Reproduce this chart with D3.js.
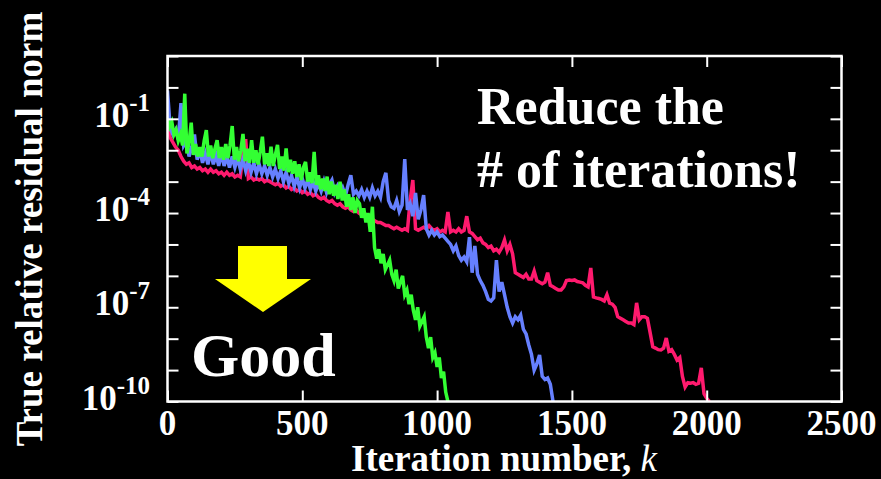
<!DOCTYPE html>
<html>
<head>
<meta charset="utf-8">
<script src="https://cdn.jsdelivr.net/npm/d3@7"></script>
<style>
  html, body { margin: 0; padding: 0; background: #000; }
  svg { display: block; }
  text { font-family: "Liberation Serif", "Times New Roman", serif; font-weight: bold; fill: #fff; }
</style>
</head>
<body>
<svg id="chart" width="881" height="479"></svg>
<script>
// Convergence histories: log10 of the true relative residual norm,
// sampled every `step` iterations.
const redStep = 10;
const redExp = [
  -1.2,-1.6,-1.75,-1.9,-2.0,-2.2,-2.35,-2.45,-2.4,-2.55,
  -2.5,-2.6,-2.55,-2.65,-2.6,-2.7,-2.6,-2.7,-2.65,-2.75,
  -2.7,-2.8,-2.7,-2.8,-2.75,-2.85,-2.8,-2.85,-2.1,-1.65,
  -2.9,-2.85,-2.95,-2.9,-2.95,-2.9,-3.0,-2.95,-3.0,-3.05,
  -3.1,-3.05,-3.15,-3.1,-3.2,-3.15,-3.25,-3.2,-3.3,-3.25,
  -3.35,-3.3,-3.4,-3.35,-3.45,-3.4,-3.5,-3.55,-3.5,-3.6,
  -3.65,-3.6,-3.7,-3.75,-3.7,-3.8,-3.85,-3.8,-3.9,-3.95,
  -3.9,-4.0,-4.05,-4.0,-4.1,-4.15,-4.2,-4.25,-4.3,-4.3,
  -4.35,-4.4,-4.4,-4.45,-4.5,-4.45,-4.5,-4.55,-4.5,-4.55,
  -3.6,-2.95,-4.5,-4.55,-4.5,-4.45,-4.5,-4.4,-4.5,-4.55,
  -4.5,-4.6,-4.55,-4.6,-3.97,-4.6,-4.55,-4.6,-4.5,-4.6,
  -4.55,-4.1,-4.6,-4.65,-4.75,-4.85,-4.8,-4.95,-5.0,-5.1,
  -5.05,-5.2,-5.15,-5.25,-5.1,-4.86,-5.2,-5.0,-5.3,-5.9,
  -5.95,-6.0,-6.05,-5.95,-6.1,-6.1,-5.85,-6.15,-6.2,-6.25,
  -6.2,-5.9,-6.3,-6.35,-6.4,-6.45,-6.45,-6.35,-6.15,-6.13,
  -6.15,-6.13,-6.18,-6.2,-6.22,-6.3,-6.35,-5.75,-6.67,-6.7,
  -6.72,-6.75,-6.8,-6.6,-6.87,-6.9,-7.0,-7.3,-7.35,-7.4,
  -7.45,-7.5,-7.5,-7.55,-6.86,-7.4,-7.3,-7.3,-7.35,-7.8,
  -8.26,-8.3,-8.35,-8.36,-8.3,-7.98,-8.4,-8.35,-8.5,-8.68,
  -8.6,-9.2,-9.54,-9.4,-9.42,-9.4,-9.45,-9.42,-8.93,-9.75,
  -9.9,-10.0
];

const blueStep = 10;
const blueExp = [
  -0.1,-1.3,-1.5,-1.35,-1.65,-0.5,-1.85,-1.7,-2.2,-1.9,
  -1.5,-2.3,-2.0,-2.4,-2.1,-2.45,-2.05,-2.45,-2.15,-2.5,
  -2.1,-2.5,-2.2,-2.55,-2.2,-2.55,-2.25,-2.6,-2.3,-2.65,
  -2.35,-2.7,-2.4,-2.75,-2.45,-2.75,-2.5,-2.8,-2.55,-2.85,
  -2.6,-2.9,-2.65,-3.0,-2.7,-3.05,-2.8,-3.15,-2.85,-3.2,
  -2.9,-3.2,-2.95,-3.25,-3.0,-3.3,-3.05,-3.3,-3.0,-3.35,
  -3.1,-2.95,-3.35,-3.15,-3.4,-3.2,-3.45,-3.1,-2.8,-3.4,
  -3.3,-3.45,-3.25,-3.5,-3.3,-3.5,-3.2,-3.45,-3.3,-3.5,
  -3.0,-2.72,-3.6,-3.8,-3.85,-3.6,-3.95,-3.75,-2.28,-3.9,
  -3.7,-4.1,-3.36,-4.2,-3.9,-3.43,-4.5,-4.7,-4.55,-4.7,
  -4.6,-4.75,-4.7,-4.8,-4.9,-5.0,-5.2,-5.05,-5.35,-5.5,
  -5.4,-5.55,-4.77,-5.9,-5.05,-5.95,-6.15,-6.3,-6.5,-6.75,
  -6.8,-6.7,-5.5,-6.5,-6.2,-6.6,-7.0,-7.3,-7.5,-7.3,
  -7.4,-7.25,-7.7,-7.85,-8.2,-8.5,-9.0,-8.8,-8.52,-9.2,
  -9.3,-9.25,-9.45,-10.0
];

const greenStep = 8;
const greenExp = [
  -1.0,-1.25,-1.1,-1.5,-1.35,-1.7,-1.5,-1.85,-0.2,-2.1,
  -1.75,-1.12,-2.15,-1.8,-2.2,-1.9,-2.2,-1.7,-1.36,-2.2,
  -1.85,-2.25,-1.95,-1.68,-2.25,-1.9,-2.3,-1.8,-2.25,-1.85,
  -1.23,-2.3,-1.9,-2.35,-2.0,-1.48,-2.35,-1.95,-2.4,-1.68,
  -2.4,-2.0,-2.45,-2.05,-1.57,-2.45,-2.1,-2.5,-1.89,-2.5,
  -2.15,-1.83,-2.6,-2.2,-2.65,-1.94,-2.7,-2.3,-2.75,-2.35,
  -2.85,-2.45,-2.95,-2.55,-2.37,-3.0,-2.7,-3.05,-2.05,-3.1,
  -2.8,-3.25,-2.9,-3.3,-2.84,-3.4,-3.0,-3.45,-3.1,-3.55,
  -3.0,-3.6,-3.25,-3.8,-3.4,-3.9,-3.5,-4.0,-3.6,-3.7,
  -4.15,-3.85,-4.3,-4.0,-4.6,-3.8,-5.1,-5.45,-5.15,-5.6,
  -5.3,-5.8,-5.65,-5.5,-5.95,-6.15,-5.8,-6.4,-6.2,-6.0,
  -6.6,-6.45,-6.9,-6.6,-7.1,-7.4,-7.0,-7.6,-7.45,-7.3,
  -7.95,-8.3,-7.95,-8.6,-8.45,-8.9,-8.6,-9.25,-9.05,-9.7,
  -10.0
];

const xTicks = [0, 500, 1000, 1500, 2000, 2500];
const yTickExps = [-10, -9, -8, -7, -6, -5, -4, -3, -2, -1, 0, 1];
const yLabelExps = [-1, -4, -7, -10];

const W = 881, H = 479;
const plot = { left: 167.5, right: 841.5, top: 56, bottom: 401.5 };

const svg = d3.select("#chart");
svg.append("rect").attr("width", W).attr("height", H).attr("fill", "#000");

const x = d3.scaleLinear().domain([0, 2500]).range([plot.left, plot.right]);
const y = d3.scaleLog().domain([1e-10, 1e1]).range([plot.bottom, plot.top]);

svg.append("defs").append("clipPath").attr("id", "plotClip")
  .append("rect")
  .attr("x", plot.left).attr("y", plot.top)
  .attr("width", plot.right - plot.left).attr("height", plot.bottom - plot.top);

// Residual curves
const series = [
  { exp: redExp, step: redStep, color: "#ff1a6e" },
  { exp: blueExp, step: blueStep, color: "#6680ff" },
  { exp: greenExp, step: greenStep, color: "#33ff33" }
];
const g = svg.append("g").attr("clip-path", "url(#plotClip)");
series.forEach(s => {
  const line = d3.line()
    .x((d, i) => x(i * s.step))
    .y(d => y(Math.pow(10, d)));
  g.append("path")
    .datum(s.exp)
    .attr("d", line)
    .attr("fill", "none")
    .attr("stroke", s.color)
    .attr("stroke-width", 3.5)
    .attr("stroke-linejoin", "miter");
});

// Axes with inward ticks on all four sides
const tickLen = 11;
const yTickVals = yTickExps.map(e => Math.pow(10, e));
function styleAxis(sel) {
  sel.select(".domain").remove();
  sel.selectAll(".tick line").attr("stroke", "#fff").attr("stroke-width", 2);
  sel.selectAll(".tick text").remove();
}
svg.append("g").attr("transform", `translate(0,${plot.bottom})`)
  .call(d3.axisBottom(x).tickValues(xTicks).tickSize(-tickLen)).call(styleAxis);
svg.append("g").attr("transform", `translate(0,${plot.top})`)
  .call(d3.axisTop(x).tickValues(xTicks).tickSize(-tickLen)).call(styleAxis);
svg.append("g").attr("transform", `translate(${plot.left},0)`)
  .call(d3.axisLeft(y).tickValues(yTickVals).tickSize(-tickLen)).call(styleAxis);
svg.append("g").attr("transform", `translate(${plot.right},0)`)
  .call(d3.axisRight(y).tickValues(yTickVals).tickSize(-tickLen)).call(styleAxis);

// Frame
svg.append("rect")
  .attr("x", plot.left).attr("y", plot.top)
  .attr("width", plot.right - plot.left).attr("height", plot.bottom - plot.top)
  .attr("fill", "none").attr("stroke", "#fff").attr("stroke-width", 2.5);

// Tick labels
svg.append("g").selectAll("text").data(xTicks).join("text")
  .attr("x", d => x(d)).attr("y", 435)
  .attr("text-anchor", "middle").attr("font-size", 35)
  .text(d => d);

const yl = svg.append("g").selectAll("text").data(yLabelExps).join("text")
  .attr("x", 150).attr("y", d => y(Math.pow(10, d)) + 8)
  .attr("text-anchor", "end").attr("font-size", 35);
yl.append("tspan").text("10");
yl.append("tspan").attr("font-size", 25).attr("dy", -16).text(d => "-" + Math.abs(d));

// Axis titles
const xt = svg.append("text")
  .attr("x", 504).attr("y", 471)
  .attr("text-anchor", "middle").attr("font-size", 37);
xt.append("tspan").text("Iteration number, ");
xt.append("tspan").attr("font-style", "italic").attr("font-weight", "normal").text("k");

svg.append("text")
  .attr("transform", "translate(42,229) rotate(-90)")
  .attr("text-anchor", "middle").attr("font-size", 37)
  .text("True relative residual norm");

// Annotations
svg.append("text").attr("x", 477).attr("y", 124).attr("font-size", 52).text("Reduce the");
svg.append("text").attr("x", 477).attr("y", 187).attr("font-size", 52).text("# of iterations!");

svg.append("polygon")
  .attr("points", [[238,246],[287,246],[287,279],[311,279],[263,312],[215,279],[238,279]].map(p => p.join(",")).join(" "))
  .attr("fill", "#ffff00");

svg.append("text").attr("x", 191).attr("y", 376).attr("font-size", 62).text("Good");
</script>
</body>
</html>
